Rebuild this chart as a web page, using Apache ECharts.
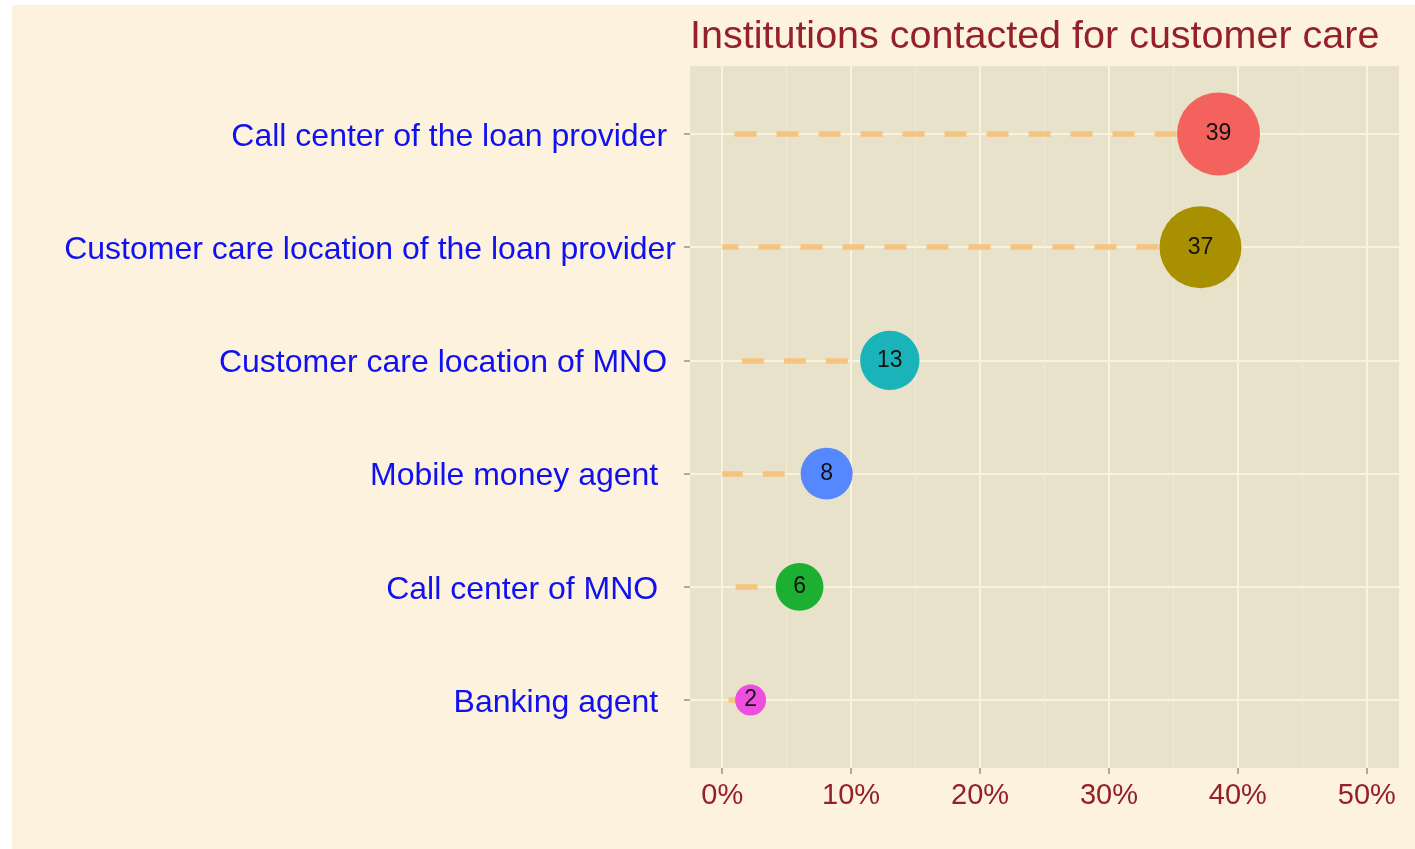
<!DOCTYPE html>
<html>
<head>
<meta charset="utf-8">
<script src="https://cdn.jsdelivr.net/npm/echarts@6/dist/echarts.min.js"></script>
<style>
  html, body { margin: 0; padding: 0; background: #ffffff; width: 1415px; height: 849px; overflow: hidden; }
  #chart { position: absolute; left: 12px; top: 5px; width: 1403px; height: 844px; }
</style>
</head>
<body>
<div id="chart"></div>
<script>
// ---- data (top to bottom) ----
const categories = [
  "Call center of the loan provider ",
  "Customer care location of the loan provider",
  "Customer care location of MNO ",
  "Mobile money agent  ",
  "Call center of MNO  ",
  "Banking agent  "
];
const percentValues = [38.5, 37.1, 13.0, 8.1, 6.0, 2.2];
const xTickValues = [0, 10, 20, 30, 40, 50];
const xMinorValues = [5, 15, 25, 35, 45];
const pointColors = ["#F4625E", "#A89000", "#1AB3B9", "#5587FF", "#1CAF32", "#EE4EE0"];

const FONT = "Liberation Sans, Arial, Helvetica, sans-serif";
const rowPositions = categories.map((c, i) => i + 1);
const vMin = Math.min.apply(null, percentValues);
const vMax = Math.max.apply(null, percentValues);
// area-proportional size scale (like ggplot scale_size), diameter 31..83 px
function sizeScale(v) {
  return 31 + 52 * Math.sqrt((v - vMin) / (vMax - vMin));
}

const chart = echarts.init(document.getElementById('chart'), null, { renderer: 'canvas' });

const option = {
  backgroundColor: '#FCF2DD',
  animation: false,
  title: {
    text: 'Institutions contacted for customer care',
    left: 678,
    top: 12,
    padding: 0,
    textStyle: { color: '#96202A', fontSize: 39.5, fontWeight: 'normal', fontFamily: FONT, lineHeight: 40 }
  },
  grid: {
    left: 678, right: 16, top: 61, bottom: 81,
    show: true, backgroundColor: '#E8E2CB', borderWidth: 0,
    containLabel: false
  },
  xAxis: [
    {
      type: 'value', min: -2.5, max: 52.5, position: 'bottom',
      axisLine: { show: false, onZero: false },
      axisTick: { show: true, length: 6, customValues: xTickValues, lineStyle: { color: '#8A9499', width: 1.5 } },
      axisLabel: {
        show: true, customValues: xTickValues, margin: 13,
        formatter: v => v + '%',
        color: '#96202A', fontSize: 29, fontFamily: FONT
      },
      splitLine: { show: true, lineStyle: { color: '#FBF2DD', width: 2 } }
    },
    {
      type: 'value', min: -2.5, max: 52.5, position: 'bottom',
      axisLine: { show: false, onZero: false },
      axisTick: { show: false, customValues: xMinorValues },
      axisLabel: { show: false, customValues: xMinorValues },
      splitLine: { show: true, lineStyle: { color: '#F1EBD6', width: 1 } }
    }
  ],
  yAxis: {
    type: 'value', min: 0.4, max: 6.6, inverse: true, position: 'left',
    axisLine: { show: false, onZero: false },
    axisTick: { show: true, length: 6, customValues: rowPositions, lineStyle: { color: '#8A9499', width: 1.5 } },
    axisLabel: {
      show: true, customValues: rowPositions, margin: 14,
      formatter: v => categories[Math.round(v) - 1],
      color: '#1010F0', fontSize: 32, fontFamily: FONT,
      verticalAlign: 'top', lineHeight: 6
    },
    splitLine: { show: true, lineStyle: { color: '#FBF2DD', width: 2 } }
  },
  series: [
    {
      type: 'lines',
      coordinateSystem: 'cartesian2d',
      xAxisIndex: 0, yAxisIndex: 0,
      z: 2,
      silent: true,
      lineStyle: { color: '#F5C47F', width: 5.5, type: [22, 20], cap: 'butt', opacity: 1 },
      data: percentValues.map((v, i) => ({ coords: [[v, rowPositions[i]], [0, rowPositions[i]]] }))
    },
    {
      type: 'scatter',
      xAxisIndex: 0, yAxisIndex: 0,
      z: 3,
      symbol: 'circle',
      symbolSize: val => sizeScale(val[0]),
      data: percentValues.map((v, i) => ({ value: [v, rowPositions[i]], itemStyle: { color: pointColors[i], opacity: 1 } })),
      label: {
        show: true, position: 'inside',
        formatter: p => String(Math.round(p.value[0])),
        color: '#111111', fontSize: 23, fontFamily: FONT
      }
    }
  ]
};
chart.setOption(option);
</script>
</body>
</html>
